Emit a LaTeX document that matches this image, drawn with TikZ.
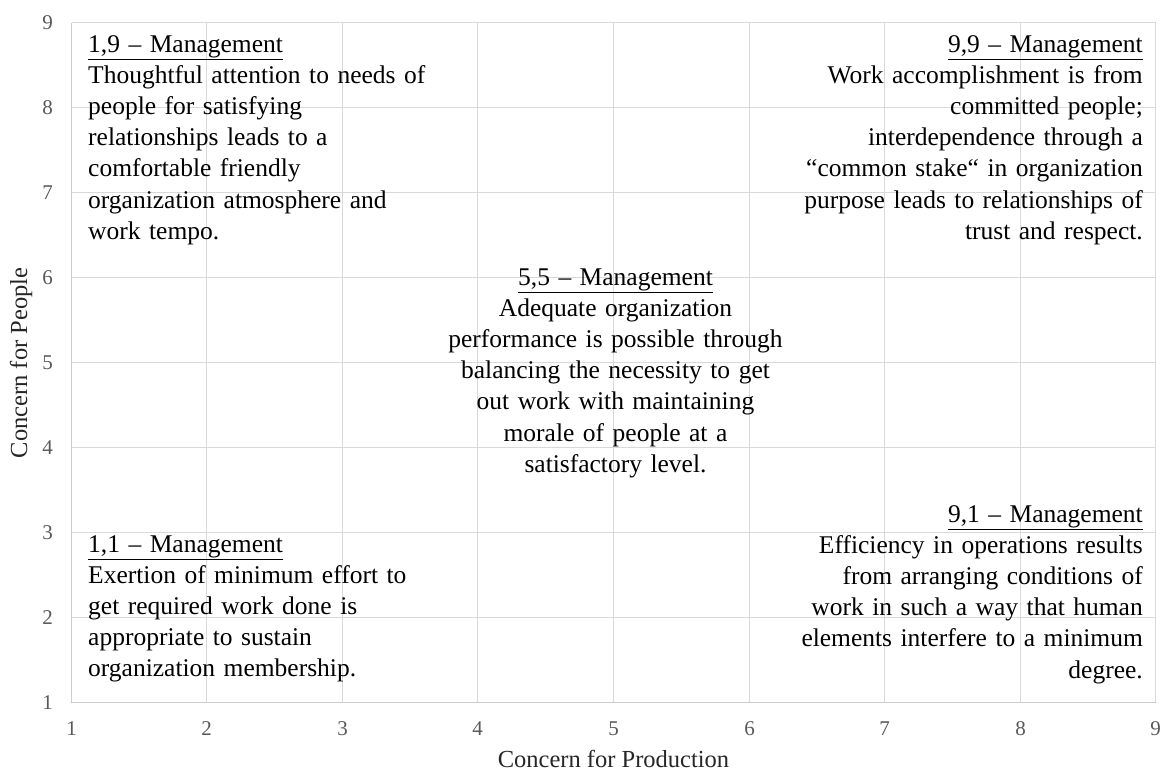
\documentclass[tikz,border=0pt]{standalone}
\usepackage{fontspec}
\setmainfont{Liberation Serif}
\definecolor{gridgray}{HTML}{D9D9D9}
\definecolor{axisgray}{HTML}{CCCCCC}
\definecolor{ticktext}{HTML}{595959}
\definecolor{titletext}{HTML}{262626}
\begin{document}
\begin{tikzpicture}[x=1pt,y=-1pt,
  gridline/.style={draw=gridgray,line width=1.5pt},
  axisline/.style={draw=axisgray,line width=1.5pt},
  ticklabel/.style={text=ticktext,inner sep=0pt,font=\fontsize{21}{24}\selectfont},
  axistitle/.style={text=titletext,inner sep=0pt,font=\fontsize{24.5}{28}\selectfont},
  styletext/.style={inner sep=0pt,text width=360pt,font=\fontsize{25.5}{31.2}\selectfont}]
\useasboundingbox (0,0) rectangle (1164,772);
% plot area: x 1..9 -> 71.5..1155.5, y 1..9 -> 702.5..22.5
% inner grid lines
\foreach \gx in {206.5,342.5,477.5,613.5,749.5,884.5,1020.5}
  \draw[gridline] (\gx,22.5) -- (\gx,702.5);
\foreach \gy in {617.5,532.5,447.5,362.5,277.5,192.5,107.5}
  \draw[gridline] (71.5,\gy) -- (1155.5,\gy);
% frame
\draw[gridline] (71.5,22.5) -- (1155.5,22.5) -- (1155.5,702.5);
\draw[axisline] (71.5,22.5) -- (71.5,702.5) -- (1155.5,702.5);
% tick labels
\foreach \v/\gy in {1/702.5,2/617.5,3/532.5,4/447.5,5/362.5,6/277.5,7/192.5,8/107.5,9/22.5}
  \node[ticklabel,anchor=east] (ytick\v) at (53,\gy) {\v};
\foreach \v/\gx in {1/71.5,2/206.5,3/342.5,4/477.5,5/613.5,6/749.5,7/884.5,8/1020.5,9/1155.5}
  \node[ticklabel] (xtick\v) at (\gx,729) {\v};
% axis titles
\node[axistitle,anchor=base] (xtitle) at (613.5,767) {Concern for Production};
\node[axistitle,rotate=90] (ytitle) at (21,363) {Concern for People};
% management styles
\node[styletext,align=left,anchor=base west] (m19) at (88,52) {\underline{1,9 – Management}\\
Thoughtful attention to needs of\\
people for satisfying\\
relationships leads to a\\
comfortable friendly\\
organization atmosphere and\\
work tempo.};
\node[styletext,align=right,anchor=base east] (m99) at (1143,52) {\underline{9,9 – Management}\\
Work accomplishment is from\\
committed people;\\
interdependence through a\\
“common stake“ in organization\\
purpose leads to relationships of\\
trust and respect.};
\node[styletext,align=center,anchor=base] (m55) at (615.5,285) {\underline{5,5 – Management}\\
Adequate organization\\
performance is possible through\\
balancing the necessity to get\\
out work with maintaining\\
morale of people at a\\
satisfactory level.};
\node[styletext,align=left,anchor=base west] (m11) at (88,552) {\underline{1,1 – Management}\\
Exertion of minimum effort to\\
get required work done is\\
appropriate to sustain\\
organization membership.};
\node[styletext,align=right,anchor=base east] (m91) at (1143,522) {\underline{9,1 – Management}\\
Efficiency in operations results\\
from arranging conditions of\\
work in such a way that human\\
elements interfere to a minimum\\
degree.};
\end{tikzpicture}
\end{document}
